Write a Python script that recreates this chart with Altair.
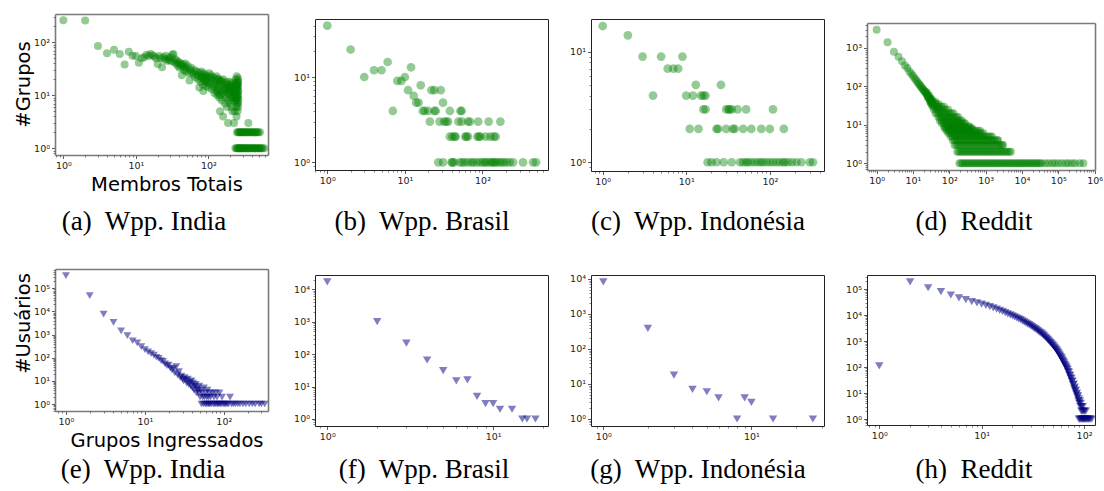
import math
import altair as alt
import pandas as pd

# ------------------------------------------------------------------
# Data (x = size, y = count)
# ------------------------------------------------------------------
# (a) Wpp. India - groups by total members
INDIA_GROUPS = [
    (1, 260), (2, 258), (3, 85), (4, 62), (5, 72), (6, 60), (7, 38), (8, 66), (9, 56), (10, 55),
    (11, 41), (12, 50), (13, 52), (14, 58), (15, 55), (16, 60), (17, 57), (18, 54), (19, 50), (20, 39),
    (21, 55), (22, 50), (23, 34), (24, 52), (25, 48), (26, 56), (27, 45), (28, 50), (29, 46), (30, 52),
    (31, 44), (32, 58), (33, 60), (34, 42), (35, 48), (36, 40), (37, 45), (38, 36), (39, 42), (40, 33),
    (41, 38), (42, 40), (43, 24), (44, 35), (45, 38), (46, 30), (47, 34), (48, 40), (49, 28), (50, 32),
    (52, 36), (54, 26), (55, 19), (56, 30), (58, 33), (60, 27), (62, 25), (64, 30), (66, 22), (68, 28),
    (70, 24), (72, 20), (74, 27), (75, 14), (76, 23), (78, 18), (80, 25), (82, 21), (84, 16), (85, 12),
    (86, 22), (88, 19), (90, 24), (92, 15), (94, 20), (96, 17), (98, 22), (100, 14), (103, 26), (106, 16),
    (109, 24), (112, 13), (115, 22), (118, 15), (121, 11), (124, 21), (127, 14), (130, 23), (133, 10),
    (136, 13), (139, 20), (142, 9), (145, 5), (148, 12), (151, 19), (154, 8), (157, 11), (160, 4),
    (163, 14), (166, 10), (169, 7), (172, 12), (175, 9), (178, 16), (181, 6), (184, 11), (187, 3),
    (190, 8), (193, 13), (196, 10), (199, 7), (202, 15), (205, 9), (208, 6), (211, 12), (214, 5),
    (217, 8), (220, 11), (223, 14), (226, 3), (229, 10), (232, 5), (235, 13), (238, 8), (240, 20),
    (241, 17), (244, 6), (245, 4), (246, 23), (247, 13), (248, 11), (249, 10), (250, 9), (251, 16),
    (252, 14), (253, 5), (254, 7), (255, 19), (256, 12), (356, 3),
    (80, 28), (83, 22), (87, 26), (91, 18), (95, 23), (101, 18), (105, 22), (110, 19), (120, 17),
    (125, 19), (128, 12), (132, 16), (135, 20), (138, 11), (141, 15), (144, 18), (146, 10),
    (150, 18), (155, 16), (160, 20), (165, 13), (170, 17), (176, 14), (180, 18), (185, 15),
    (190, 12), (195, 16), (200, 18), (204, 11), (210, 14), (215, 17), (218, 9), (222, 12),
    (227, 16), (231, 12), (234, 9), (237, 15), (239, 11), (242, 14), (243, 9), (246, 8),
    (250, 15), (252, 7), (254, 17), (256, 9), (257, 15), (257, 6), (258, 10), (259, 12),
    (260, 8), (258, 18), (256, 21),
]
INDIA_GROUPS_ROW2 = [248, 258, 265, 272, 280, 288, 296, 305, 315, 325, 335, 346, 358, 370, 383,
                     396, 410, 425, 440, 456, 472, 490, 515]
INDIA_GROUPS_ROW1 = [236, 245, 252, 258, 264, 270, 277, 284, 291, 299, 307, 315, 324, 333, 342,
                     352, 362, 373, 384, 396, 408, 420, 433, 446, 460, 475, 490, 505, 522, 540,
                     560, 590]

# (b) Wpp. Brasil
BRASIL_GROUPS = [
    (1, 40), (2, 21), (3, 10), (4, 12), (5, 12), (6, 15), (7, 4), (8, 9), (9, 9), (10, 10),
    (11, 7), (12, 13), (13, 6), (14, 5), (15, 5), (16, 8), (22, 7), (24, 7), (29, 7), (31, 5),
]
BRASIL_GROUPS_ROW4 = [17, 18, 20, 24, 25, 38, 52, 54]
BRASIL_GROUPS_ROW3 = [21, 28, 32, 34, 36, 49, 54, 65, 69, 88, 120, 170]
BRASIL_GROUPS_ROW2 = [38, 41, 44, 45, 60, 62, 65, 86, 90, 94, 110, 126, 140, 148]
BRASIL_GROUPS_ROW1 = [27, 31, 40, 41, 43, 51, 55, 59, 65, 72, 76, 84, 92, 100, 107, 112, 122,
                      130, 137, 144, 151, 164, 175, 188, 203, 224, 248, 333, 448, 490]

# (c) Wpp. Indonesia
INDO_GROUPS = [
    (1, 17), (2, 14), (3, 9), (4, 4), (5, 9), (6, 7), (7, 7), (8, 7), (9, 9), (10, 4),
    (11, 2), (12, 4), (13, 5), (14, 2), (15, 4), (16, 4), (17, 4), (16, 3), (17, 3), (26, 5),
]
INDO_GROUPS_ROW3 = [30, 32, 33, 35, 41, 52, 109]
INDO_GROUPS_ROW2 = [23, 24, 30, 36, 38, 48, 60, 79, 100, 147]
INDO_GROUPS_ROW1 = [18, 20, 23, 28, 35, 44, 48, 52, 55, 60, 66, 72, 78, 83, 91, 100, 109, 120,
                    131, 144, 151, 165, 184, 208, 238, 300, 328]

# (d) Reddit - subreddits by members
REDDIT_GROUPS = [
    (1, 3000), (2, 1400), (3, 800), (4, 590), (5, 450), (6, 350), (7, 300), (8, 245), (9, 215),
    (10, 190), (11, 165), (12, 150), (13, 135), (14, 120), (15, 112), (16, 104), (17, 96), (18, 88),
    (19, 84), (20, 78), (21, 74), (22, 70), (23, 66), (24, 62), (25, 58), (26, 56), (27, 52),
    (28, 50), (29, 48), (30, 46), (31, 44), (32, 42), (33, 40), (34, 38), (24, 70), (26, 50),
    (28, 58), (30, 40), (32, 48), (34, 33), (30, 40), (35, 41), (41, 40), (32, 35), (37, 35),
    (43, 35), (50, 35),
]
REDDIT_ROWS = {
    30: [35, 40, 46, 52, 60, 70],
    25: [38, 44, 50, 57, 66, 78, 92],
    20: [42, 48, 55, 63, 73, 85, 100, 115, 130],
    16: [50, 57, 65, 75, 87, 100, 115, 135, 155, 175],
    13: [55, 63, 72, 83, 95, 110, 127, 147, 170, 195, 220],
    11: [62, 71, 82, 94, 108, 124, 143, 165, 190, 220, 250, 270],
    9: [72, 82, 94, 108, 124, 142, 163, 188, 216, 248, 285, 330, 360],
    8: [76, 87, 100, 115, 132, 152, 175, 200, 230, 265, 305, 350, 400, 430],
    7: [85, 98, 112, 128, 147, 170, 195, 225, 258, 297, 340, 390, 450, 520, 600, 700],
    6: [95, 108, 124, 142, 163, 188, 216, 248, 285, 328, 377, 433, 498, 572, 658, 757, 870],
    5: [110, 125, 142, 162, 185, 211, 241, 275, 314, 358, 408, 466, 532, 607, 693, 791, 903,
        1030, 1180, 1340, 1500],
    4: [125, 142, 161, 183, 208, 236, 268, 305, 347, 394, 448, 509, 579, 658, 748, 850, 966,
        1100, 1250, 1420, 1610, 1830, 2080, 2200],
    3: [140, 158, 178, 201, 227, 256, 289, 326, 368, 415, 468, 528, 596, 672, 758, 855, 965,
        1090, 1230, 1390, 1570, 1770, 2000, 2250, 2540, 2870, 3000],
    2: [165, 185, 207, 232, 260, 291, 326, 365, 409, 458, 513, 575, 644, 721, 808, 905, 1010,
        1130, 1270, 1420, 1590, 1780, 2000, 2240, 2510, 2810, 3150, 3530, 3950, 4430, 4960],
    1: [190, 213, 238, 267, 299, 335, 375, 420, 470, 527, 590, 661, 740, 829, 928, 1040, 1160,
        1300, 1460, 1630, 1830, 2050, 2300, 2570, 2880, 3230, 3620, 4050, 4540, 5080, 5690,
        6380, 7140, 8000, 8960, 10000, 11200, 12600, 14100, 15800, 17700, 19800, 22200, 24900,
        27900, 31200, 35000, 44000, 54000, 68000, 81000, 100000, 126000, 160000, 190000,
        240000, 290000, 390000, 490000],
}

# (e) Wpp. India - users by groups joined
INDIA_USERS = [
    (1, 350000), (2, 48000), (3, 7700), (4, 3400), (5, 1450), (6, 900), (7, 540), (8, 440),
    (9, 300), (10, 225), (11, 180), (12, 150), (13, 130), (14, 105), (15, 95), (16, 75), (17, 70),
    (18, 55), (19, 45), (20, 48), (21, 36), (22, 30), (23, 34), (24, 22), (25, 41), (26, 18),
    (27, 25), (28, 14), (29, 16), (30, 12), (31, 10), (32, 14), (33, 11), (34, 8), (35, 12),
    (36, 7), (37, 9), (38, 6), (39, 10), (40, 5), (41, 8), (42, 4), (43, 6), (44, 7), (45, 3),
    (46, 5), (47, 4), (48, 3), (49, 6), (50, 2), (51, 4), (52, 1), (53, 3), (54, 2), (55, 1),
    (56, 5), (57, 2), (58, 1), (59, 3), (60, 1), (61, 2), (62, 4), (63, 1), (64, 2), (65, 1),
    (66, 3), (67, 1), (68, 2), (70, 1), (72, 3), (74, 1), (75, 2), (77, 1), (79, 3), (80, 1),
    (82, 2), (84, 1), (86, 1), (88, 3), (90, 1), (93, 1), (95, 2), (98, 1), (102, 1), (106, 1),
    (110, 1), (115, 1), (120, 2), (125, 1), (132, 1), (140, 1), (150, 1), (160, 1), (175, 1),
    (190, 1), (210, 1), (230, 1), (250, 1), (280, 1), (300, 1), (330, 1),
]
# (f) Wpp. Brasil
BRASIL_USERS = [(1, 17000), (2, 1000), (3, 217), (4, 66), (5, 31), (6, 15), (7, 16), (8, 5),
                (9, 3), (10, 3), (11, 2), (13, 2), (15, 1), (16, 1), (18, 1)]
# (g) Wpp. Indonesia
INDO_USERS = [(1, 8300), (2, 390), (3, 18), (4, 7), (5, 6), (6, 4), (8, 1), (9, 4), (10, 3),
              (14, 1), (26, 1)]
# (h) Reddit - users by subreddits joined
REDDIT_USERS = [
    (1, 110), (2, 190000), (3, 112000), (4, 79000), (5, 59000), (6, 46000), (7, 39000),
    (8, 33000), (9, 29500), (10, 26500), (11, 23500), (12, 21000), (13, 19000), (14, 17000),
    (15, 15200), (16, 13700), (17, 12300), (18, 11000), (19, 10100), (20, 9300), (21, 8500),
    (22, 7800), (23, 7100), (24, 6600), (25, 6000), (26, 5500), (27, 5000), (28, 4600),
    (29, 4250), (30, 3900), (31, 3600), (32, 3300), (33, 3000), (34, 2800), (35, 2550),
    (36, 2350), (37, 2150), (38, 2000), (39, 1850), (40, 1700), (41, 1550), (42, 1400),
    (43, 1280), (44, 1150), (45, 1050), (46, 960), (47, 870), (48, 790), (49, 720), (50, 660),
    (51, 590), (52, 540), (53, 490), (54, 450), (55, 400), (56, 355), (57, 316), (58, 280),
    (59, 250), (60, 225), (61, 200), (62, 178), (63, 158), (64, 140), (65, 125), (66, 112),
    (67, 100), (68, 89), (69, 80), (70, 66), (71, 62), (72, 50), (73, 47), (74, 38), (75, 36),
    (76, 28), (77, 29), (78, 21), (79, 22), (80, 15), (81, 17), (82, 12), (83, 13), (84, 9),
    (85, 10), (86, 7), (87, 8), (88, 5), (89, 6), (90, 4), (91, 5), (92, 3), (93, 4), (94, 2),
    (95, 3), (96, 2), (97, 3), (98, 1), (99, 2), (100, 1), (101, 2), (102, 1), (103, 1),
    (104, 2), (106, 1), (108, 1), (110, 1), (112, 1), (115, 1), (119, 1), (89, 1), (91, 1),
    (93, 1), (95, 1), (97, 1),
]

CAPTIONS = ["(a)\u00a0 Wpp. India", "(b)\u00a0 Wpp. Brasil", "(c)\u00a0 Wpp. Indonésia",
            "(d)\u00a0 Reddit", "(e)\u00a0 Wpp. India", "(f)\u00a0 Wpp. Brasil",
            "(g)\u00a0 Wpp. Indonésia", "(h)\u00a0 Reddit"]
X_TITLES = {"a": "Membros Totais", "e": "Grupos Ingressados"}
Y_TITLES = {"a": "#Grupos", "e": "#Usuários"}
SUPERSCRIPTS = ["⁰", "¹", "²", "³", "⁴", "⁵", "⁶"]

# ------------------------------------------------------------------
# Helpers
# ------------------------------------------------------------------
W, H = 1104, 491
GREEN = "green"
NAVY = "navy"
TRI = "M-1,-0.85L1,-0.85L0,0.85Z"


def pairs_df(pairs, extra_rows=None):
    rows = [{"x": x, "y": y} for x, y in pairs]
    for yv, xs in (extra_rows or {}).items():
        rows += [{"x": x, "y": yv} for x in xs]
    return pd.DataFrame(rows)


def label_expr(vals):
    expr = "''"
    for v in vals:
        k = int(round(math.log10(v)))
        expr = f"datum.value == {v} ? '10{SUPERSCRIPTS[k]}' : ({expr})"
    return expr


def minor_ticks(dom):
    lo, hi = dom
    out = []
    for k in range(math.floor(math.log10(lo)) - 1, math.ceil(math.log10(hi)) + 1):
        for m in range(2, 10):
            v = m * 10 ** k
            if lo <= v <= hi:
                out.append(v)
    return out


def ldom(a, b):
    return [10 ** a, 10 ** b]


PANELS = [
    dict(key="a", df=pairs_df(INDIA_GROUPS, {2: INDIA_GROUPS_ROW2, 1: INDIA_GROUPS_ROW1}),
         px=(55, 268), py=(14, 155), xdom=ldom(-0.115, 2.823), ydom=ldom(-0.126, 2.534),
         xt=[1, 10, 100], yt=[1, 10, 100], color=GREEN, shape="circle", size=64, alpha=0.42,
         frame="#7a7a7a", fw=1.6, cap=(144, 230)),
    dict(key="b", df=pairs_df(BRASIL_GROUPS, {4: BRASIL_GROUPS_ROW4, 3: BRASIL_GROUPS_ROW3,
                                              2: BRASIL_GROUPS_ROW2, 1: BRASIL_GROUPS_ROW1}),
         px=(315, 548), py=(19, 170), xdom=ldom(-0.158, 2.844), ydom=ldom(-0.09, 1.68),
         xt=[1, 10, 100], yt=[1, 10], color=GREEN, shape="circle", size=76, alpha=0.42,
         frame="#222", fw=1, cap=(422, 230)),
    dict(key="c", df=pairs_df(INDO_GROUPS, {3: INDO_GROUPS_ROW3, 2: INDO_GROUPS_ROW2,
                                            1: INDO_GROUPS_ROW1}),
         px=(591, 824), py=(19, 171), xdom=ldom(-0.14, 2.648), ydom=ldom(-0.079, 1.294),
         xt=[1, 10, 100], yt=[1, 10], color=GREEN, shape="circle", size=76, alpha=0.42,
         frame="#222", fw=1, cap=(698, 230)),
    dict(key="d", df=pairs_df(REDDIT_GROUPS, REDDIT_ROWS),
         px=(867, 1095), py=(23, 170), xdom=ldom(-0.265, 6.01), ydom=ldom(-0.175, 3.65),
         xt=[1, 10, 100, 1000, 10000, 100000, 1000000], yt=[1, 10, 100, 1000], color=GREEN,
         shape="circle", size=64, alpha=0.42, frame="#7a7a7a", fw=1.6, cap=(974, 230)),
    dict(key="e", df=pairs_df(INDIA_USERS),
         px=(55, 268), py=(269, 411), xdom=ldom(-0.139, 2.56), ydom=ldom(-0.302, 5.834),
         xt=[1, 10, 100], yt=[1, 10, 100, 1000, 10000, 100000], color=NAVY, shape=TRI,
         size=62, alpha=0.5, frame="#7a7a7a", fw=1.6, cap=(143, 478)),
    dict(key="f", df=pairs_df(BRASIL_USERS),
         px=(315, 548), py=(275, 426), xdom=ldom(-0.074, 1.331), ydom=ldom(-0.216, 4.44),
         xt=[1, 10], yt=[1, 10, 100, 1000, 10000], color=NAVY, shape=TRI, size=72, alpha=0.5,
         frame="#222", fw=1, cap=(424, 478)),
    dict(key="g", df=pairs_df(INDO_USERS),
         px=(591, 824), py=(275, 426), xdom=ldom(-0.083, 1.49), ydom=ldom(-0.2, 4.114),
         xt=[1, 10], yt=[1, 10, 100, 1000, 10000], color=NAVY, shape=TRI, size=72, alpha=0.5,
         frame="#222", fw=1, cap=(698, 478)),
    dict(key="h", df=pairs_df(REDDIT_USERS),
         px=(867, 1095), py=(275, 425), xdom=ldom(-0.12, 2.107), ydom=ldom(-0.23, 5.54),
         xt=[1, 10, 100], yt=[1, 10, 100, 1000, 10000, 100000], color=NAVY, shape=TRI,
         size=72, alpha=0.5, frame="#222", fw=1, cap=(974, 478)),
]

TICK_FONT = "DejaVu Sans"
TITLE_FONT = "DejaVu Sans"
CAP_FONT = "Liberation Serif"
TITLE_SIZE = 19.5
CAP_SIZE = 27
TICK_SIZE = 9.5


def panel_layers(p):
    df = p["df"]
    (x0, x1), (y0, y1) = p["px"], p["py"]
    xs = alt.Scale(type="log", domain=p["xdom"], range=[x0, x1], nice=False)
    ys = alt.Scale(type="log", domain=p["ydom"], range=[y1, y0], nice=False)
    lab = dict(grid=False, labelFont=TICK_FONT, labelFontSize=TICK_SIZE, labelColor="#222",
               tickColor="#333", tickWidth=0.8, domainColor=p["frame"], domainWidth=p["fw"],
               labelOverlap=False, labelFlush=False, labelBound=False)
    xa = dict(orient="bottom", offset=y1 - H, values=p["xt"], labelExpr=label_expr(p["xt"]),
              tickSize=3.5, labelPadding=1.5, title="", **lab)
    ya = dict(orient="left", offset=-x0, values=p["yt"], labelExpr=label_expr(p["yt"]),
              tickSize=3.5, labelPadding=2, title="", **lab)
    k = p["key"]
    if k in X_TITLES:
        xa.update(title=X_TITLES[k], titleFont=TITLE_FONT, titleFontSize=TITLE_SIZE,
                  titleFontWeight="normal", titleColor="black", titleAlign="center",
                  titleBaseline="alphabetic", titleX=(x0 + x1) / 2 + 5, titleY=35)
        ya.update(title=Y_TITLES[k], titleFont=TITLE_FONT, titleFontSize=TITLE_SIZE,
                  titleFontWeight="normal", titleColor="black", titleAlign="center",
                  titleBaseline="alphabetic", titleAngle=270, titleX=29 - x0,
                  titleY=84 if k == "a" else 323)
    pts = alt.Chart(df).mark_point(
        filled=True, shape=p["shape"], size=p["size"], opacity=p["alpha"], color=p["color"]
    ).encode(
        x=alt.X("x:Q", scale=xs, axis=alt.Axis(**xa)),
        y=alt.Y("y:Q", scale=ys, axis=alt.Axis(**ya)),
    )
    frame = alt.Chart(df).mark_point(opacity=0).encode(
        x=alt.X("x:Q", scale=xs, axis=alt.Axis(orient="top", offset=-y0, ticks=False, labels=False,
                                                grid=False, domainColor=p["frame"],
                                                domainWidth=p["fw"], title="")),
        y=alt.Y("y:Q", scale=ys, axis=alt.Axis(orient="right", offset=x1 - W, ticks=False,
                                                labels=False, grid=False, domainColor=p["frame"],
                                                domainWidth=p["fw"], title="")),
    )
    minor = alt.Chart(df).mark_point(opacity=0).encode(
        x=alt.X("x:Q", scale=xs, axis=alt.Axis(orient="bottom", offset=y1 - H, domain=False,
                                                labels=False, grid=False, tickSize=2,
                                                tickColor="#333", tickWidth=0.6,
                                                values=minor_ticks(p["xdom"]), title="")),
        y=alt.Y("y:Q", scale=ys, axis=alt.Axis(orient="left", offset=-x0, domain=False,
                                                labels=False, grid=False, tickSize=2,
                                                tickColor="#333", tickWidth=0.6,
                                                values=minor_ticks(p["ydom"]), title="")),
    )
    return [pts, frame, minor]


layers = []
for p in PANELS:
    layers += panel_layers(p)

for p, cap in zip(PANELS, CAPTIONS):
    cx, cy = p["cap"]
    layers.append(
        alt.Chart(alt.Data(values=[{"caption": cap}])).mark_text(
            font=CAP_FONT, fontSize=CAP_SIZE, color="black", align="center", baseline="alphabetic"
        ).encode(x=alt.value(cx), y=alt.value(cy), text="caption:N")
    )

chart = (
    alt.layer(*layers)
    .resolve_scale(x="independent", y="independent")
    .properties(width=W, height=H, autosize=alt.AutoSizeParams(type="none"), padding=0,
                background="white")
    .configure_view(strokeWidth=0)
)

chart.save("out.html", embed_options={"renderer": "svg", "actions": False})
